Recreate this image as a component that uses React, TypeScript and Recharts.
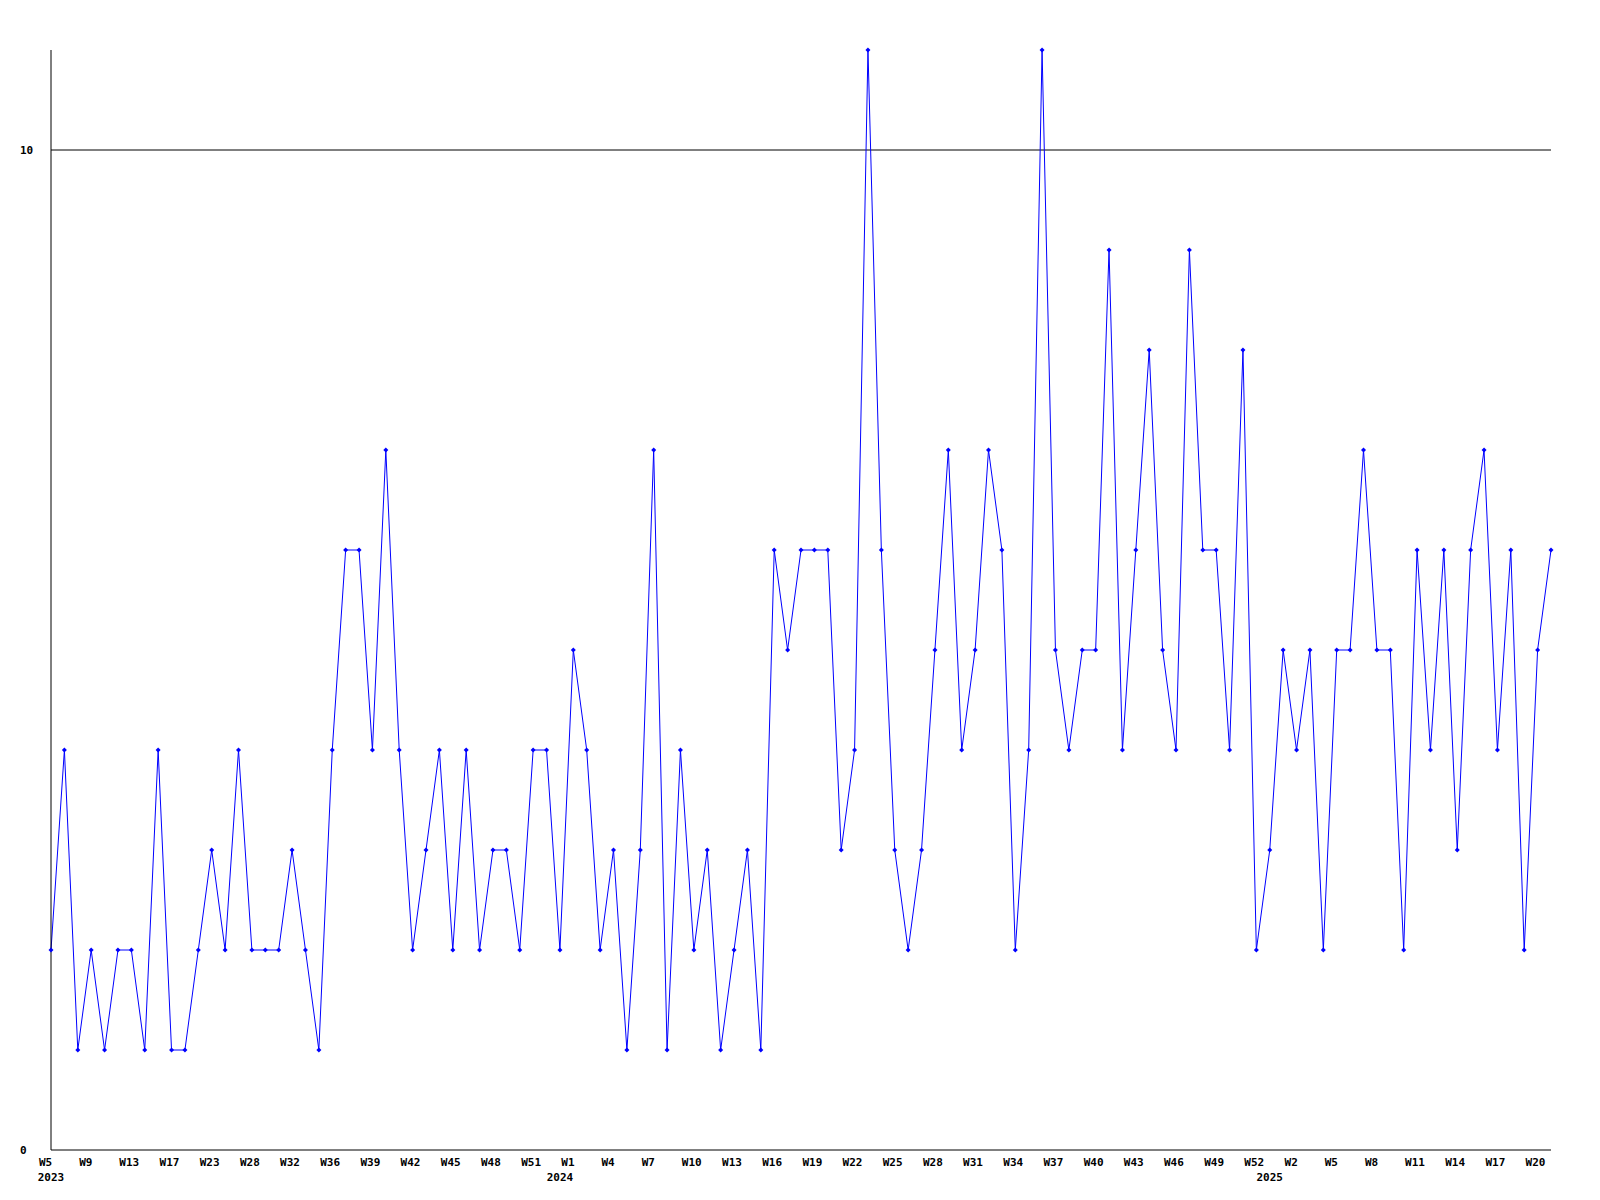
import { LineChart, Line, XAxis, YAxis, ReferenceLine } from "recharts";

// week numbers per year, one entry per data point
const weeks2023 = [
  5, 7, 8, 9, 10, 12, 13, 14, 16, 17, 19, 21, 23, 25, 26, 28, 30, 31, 32, 34,
  35, 36, 37, 38, 39, 40, 41, 42, 43, 44, 45, 46, 47, 48, 49, 50, 51, 52,
];
const weeks2024 = [
  0, 1, 2, 3, 4, 5, 6, 7, 8, 9, 10, 11, 12, 13, 14, 15, 16, 17, 18, 19, 20, 21,
  22, 23, 24, 25, 26, 27, 28, 29, 30, 31, 32, 33, 34, 35, 36, 37, 38, 39, 40,
  41, 42, 43, 44, 45, 46, 47, 48, 49, 50, 51, 52,
];
const weeks2025 = [
  0, 1, 2, 3, 4, 5, 6, 7, 8, 9, 10, 11, 12, 13, 14, 15, 16, 17, 18, 19, 20, 21,
];

const counts = [
  2, 4, 1, 2, 1, 2, 2, 1, 4, 1,
  1, 2, 3, 2, 4, 2, 2, 2, 3, 2,
  1, 4, 6, 6, 4, 7, 4, 2, 3, 4,
  2, 4, 2, 3, 3, 2, 4, 4, 2, 5,
  4, 2, 3, 1, 3, 7, 1, 4, 2, 3,
  1, 2, 3, 1, 6, 5, 6, 6, 6, 3,
  4, 11, 6, 3, 2, 3, 5, 7, 4, 5,
  7, 6, 2, 4, 11, 5, 4, 5, 5, 9,
  4, 6, 8, 5, 4, 9, 6, 6, 4, 8,
  2, 3, 5, 4, 5, 2, 5, 5, 7, 5,
  5, 2, 6, 4, 6, 3, 6, 7, 4, 6,
  2, 5, 6,
];

const yTicks = [0, 10];

const categories = [
  ...weeks2023.map((w) => ({ year: 2023, week: w })),
  ...weeks2024.map((w) => ({ year: 2024, week: w })),
  ...weeks2025.map((w) => ({ year: 2025, week: w })),
];

const data = categories.map((c, i) => ({
  key: `${c.year}-W${c.week}`,
  value: counts[i],
}));

const FONT = "'DejaVu Sans Mono', monospace";
const BLUE = "#0000ff";

const WeekTick = (props: any) => {
  const { x, y } = props;
  const index = props.index ?? props.payload?.index ?? 0;
  const c = categories[index];
  if (!c) return null;
  const showWeek = index % 3 === 0;
  const showYear = index === 0 || categories[index - 1].year !== c.year;
  if (!showWeek && !showYear) return null;
  return (
    <g>
      {showWeek && (
        <text x={x - 12} y={y + 16} textAnchor="start" fontFamily={FONT} fontSize={11} fontWeight="bold" fill="#000">
          {`W${c.week}`}
        </text>
      )}
      {showYear && (
        <text x={x} y={y + 31} textAnchor="middle" fontFamily={FONT} fontSize={11} fontWeight="bold" fill="#000">
          {c.year}
        </text>
      )}
    </g>
  );
};

const CountTick = (props: any) => {
  const { x, y, payload } = props;
  return (
    <text x={x - 31} y={y + 4} textAnchor="start" fontFamily={FONT} fontSize={11} fontWeight="bold" fill="#000">
      {payload.value}
    </text>
  );
};

const Marker = (props: any) => {
  const { cx, cy, index } = props;
  if (cx == null || cy == null) return <g key={index} />;
  const r = 2.5;
  return (
    <path
      key={index}
      d={`M${cx} ${cy - r}L${cx + r} ${cy}L${cx} ${cy + r}L${cx - r} ${cy}Z`}
      fill={BLUE}
      stroke="none"
    />
  );
};

export default function App() {
  return (
    <div style={{ position: "absolute", left: 0, top: 0, background: "#fff" }}>
      <LineChart
        width={1600}
        height={1200}
        data={data}
        margin={{ top: 50, right: 49, left: 0, bottom: 0 }}
      >
        <XAxis
          dataKey="key"
          interval={0}
          height={50}
          tickLine={false}
          tickSize={0}
          tickMargin={0}
          axisLine={{ stroke: "#000" }}
          tick={<WeekTick />}
        />
        <YAxis
          width={51}
          domain={[0, 11]}
          ticks={yTicks}
          tickLine={false}
          tickSize={0}
          tickMargin={0}
          axisLine={{ stroke: "#000" }}
          tick={<CountTick />}
        />
        <ReferenceLine y={10} stroke="#000" strokeWidth={1} />
        <Line
          type="linear"
          dataKey="value"
          stroke={BLUE}
          strokeWidth={1}
          dot={Marker}
          activeDot={false}
          isAnimationActive={false}
        />
      </LineChart>
    </div>
  );
}
